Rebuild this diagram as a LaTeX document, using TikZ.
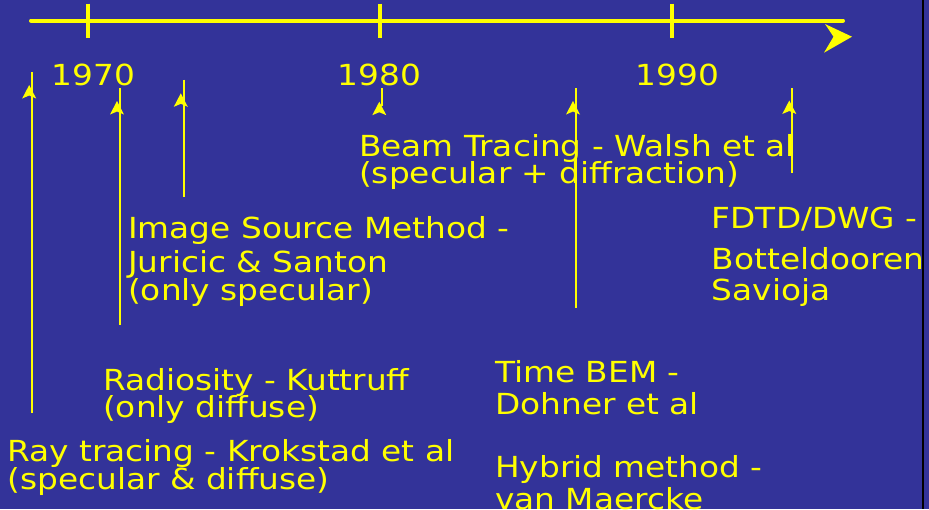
\documentclass[tikz,border=0pt]{standalone}
\usepackage{fontspec}
\setmainfont[FakeStretch=1.13]{DejaVu Sans}
\definecolor{slideblue}{HTML}{333399}
\definecolor{slideyellow}{HTML}{FFFF00}

\tikzset{
  axisline/.style={line width=4pt, slideyellow, line cap=round},
  eventline/.style={line width=2pt, slideyellow},
  evtext/.style={anchor=base west, inner sep=0pt, text=slideyellow,
                 font=\fontsize{29}{30}\selectfont}
}

% 竖线上的小箭头：#1,#2 为箭尖位置（像素坐标，y 向下）
\newcommand{\upHead}[2]{%
  \fill[slideyellow] (#1,#2) -- ++(7,13.5) -- ++(-7,-3) -- ++(-7,3) -- cycle;}

\begin{document}
\begin{tikzpicture}[x=1pt, y=-1pt]
  % 背景与右侧边框
  \fill[slideblue] (0,0) rectangle (929,509);
  \useasboundingbox (0,0) rectangle (929,509);
  \draw[line width=2pt, black] (922.5,0) -- (922.5,509);

  % 1. 时间轴及刻度
  \coordinate (axL) at (31,20.5);
  \coordinate (axR) at (843,20.5);
  \draw[axisline] (axL) -- (axR);
  \foreach \x in {88.3, 380, 671.7}
    \draw[axisline, line cap=butt] (\x,3.5) -- (\x,37.5);
  % 时间轴末端箭头（略偏下）
  \fill[slideyellow] (825,24) -- (852,36.7) -- (824,52.7) -- (833.5,36.7) -- cycle;

  % 年份
  \node[evtext] (yr1970) at (51.5,85) {1970};
  \node[evtext] (yr1980) at (337.5,85) {1980};
  \node[evtext] (yr1990) at (635.5,85) {1990};

  % 2. 各方法对应的竖线
  \coordinate (rayTop) at (32,72);    \coordinate (rayBot) at (32,412.5);
  \coordinate (radTop) at (120,88);   \coordinate (radBot) at (120,325);
  \coordinate (imgTop) at (184,79.5); \coordinate (imgBot) at (184,197);
  \coordinate (beamTop) at (382.3,88);\coordinate (beamBot) at (382.3,106);
  \coordinate (bemTop) at (576,88);   \coordinate (bemBot) at (576,308);
  \coordinate (fdtdTop) at (792.3,88);\coordinate (fdtdBot) at (792.3,173);
  \foreach \e in {ray, rad, img, beam, bem, fdtd}
    \draw[eventline] (\e Top) -- (\e Bot);

  % 小箭头（与竖线稍有错位）
  \upHead{29.2}{85}
  \upHead{117}{101}
  \upHead{180.8}{93.3}
  \upHead{379.3}{101.7}
  \upHead{573}{101}
  \upHead{789.3}{100.5}

  % 3. 文字说明（超出右边框的部分裁掉）
  \begin{scope}
    \clip (0,0) rectangle (921,509);
    \node[evtext] (beam1) at (359,156)   {Beam Tracing - Walsh et al};
    \node[evtext] (beam2) at (359,183)   {(specular + diffraction)};

    \node[evtext] (img1) at (128,238.5)  {Image Source Method -};
    \node[evtext] (img2) at (128,272.7)  {Juricic \& Santon};
    \node[evtext] (img3) at (128,300.5)  {(only specular)};

    \node[evtext] (fdtd1) at (711.7,228.3) {FDTD/DWG -};
    \node[evtext] (fdtd2) at (711.7,269.3) {Botteldooren/};
    \node[evtext] (fdtd3) at (711.7,300)   {Savioja};

    \node[evtext] (rad1) at (103,390)    {Radiosity - Kuttruff};
    \node[evtext] (rad2) at (103,417)    {(only diffuse)};

    \node[evtext] (ray1) at (7.3,461.7)  {Ray tracing - Krokstad et al};
    \node[evtext] (ray2) at (7.3,489)    {(specular \& diffuse)};

    \node[evtext] (bem1) at (495,382.3)  {Time BEM -};
    \node[evtext] (bem2) at (495,414)    {Dohner et al};
    \node[evtext] (hyb1) at (495,477.3)  {Hybrid method -};
    \node[evtext] (hyb2) at (495,509.5)  {van Maercke};
  \end{scope}
\end{tikzpicture}
\end{document}
